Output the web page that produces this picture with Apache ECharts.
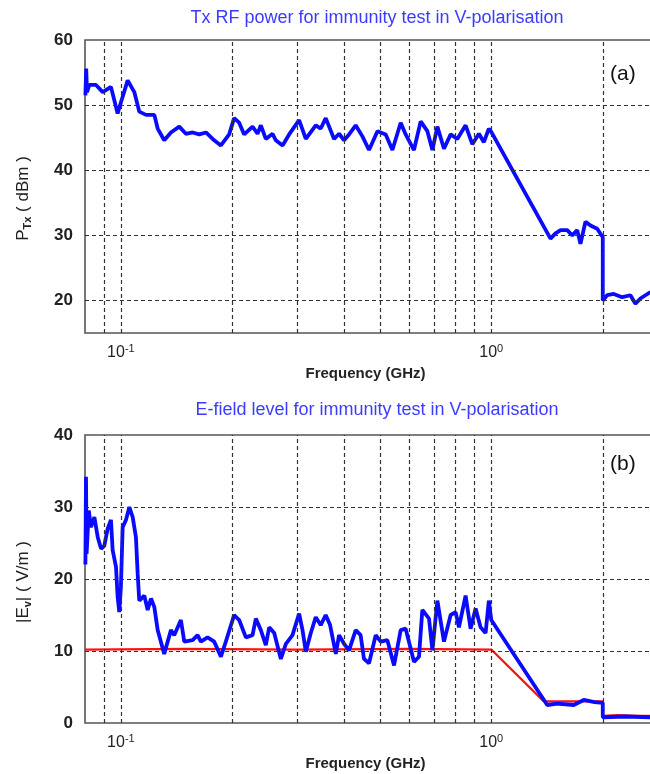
<!DOCTYPE html>
<html>
<head>
<meta charset="UTF-8">
<title>Immunity test V-polarisation</title>
<script src="https://cdn.jsdelivr.net/npm/echarts@6.0.0/dist/echarts.min.js"></script>
<style>
  html, body { margin: 0; padding: 0; background: #fff; overflow: hidden; }
  #chart { width: 650px; height: 774px; }
</style>
</head>
<body>
<div id="chart"></div>
<script>
// panel (a): Tx RF power (dBm) vs frequency (GHz)
const freqA = [0.0802, 0.0806, 0.0810, 0.0822, 0.0857, 0.0893, 0.0940, 0.0980, 0.1000, 0.1043,
  0.1087, 0.1121, 0.1169, 0.1231, 0.1257, 0.1309, 0.1365, 0.1437, 0.1498, 0.1562,
  0.1627, 0.1697, 0.1786, 0.1862, 0.1960, 0.2022, 0.2086, 0.2152, 0.2267, 0.2339,
  0.2387, 0.2462, 0.2567, 0.2620, 0.2732, 0.2846, 0.3028, 0.3157, 0.3358, 0.3464,
  0.3573, 0.3763, 0.3882, 0.4004, 0.4130, 0.4305, 0.4488, 0.4677, 0.4928, 0.5188,
  0.5408, 0.5694, 0.5873, 0.6184, 0.6447, 0.6721, 0.6934, 0.7153, 0.7451, 0.7767,
  0.8096, 0.8524, 0.8887, 0.9260, 0.9550, 0.9850, 1.000, 1.445, 1.491, 1.538,
  1.603, 1.654, 1.706, 1.741, 1.796, 1.853, 1.932, 2.000, 2.000, 2.055,
  2.141, 2.256, 2.375, 2.450, 2.527, 2.690];
const powerA = [51.5, 55.6, 52.0, 53.1, 53.1, 52.0, 52.8, 48.7, 50.4, 53.8,
  52.0, 49.0, 48.5, 48.5, 46.4, 44.6, 45.8, 46.7, 45.6, 45.8,
  45.5, 45.8, 44.6, 43.8, 45.5, 48.0, 47.3, 45.5, 46.7, 45.6,
  46.9, 44.8, 45.6, 44.6, 43.8, 45.5, 47.7, 44.8, 46.9, 46.4,
  48.0, 44.8, 45.6, 44.6, 45.5, 46.9, 45.2, 43.1, 46.0, 45.5,
  43.1, 47.3, 45.5, 43.1, 47.5, 46.0, 43.1, 46.7, 43.3, 45.5,
  44.8, 46.9, 44.0, 45.6, 44.3, 46.4, 45.9, 29.5, 30.3, 30.8,
  30.8, 30.0, 30.8, 28.7, 32.1, 31.5, 31.0, 29.7, 20.0, 20.8,
  21.0, 20.5, 20.8, 19.5, 20.3, 21.3];

// panel (b): measured E-field |Ev| (V/m)
const freqB = [0.0802, 0.0805, 0.0808, 0.0819, 0.0830, 0.0848, 0.0866, 0.0884, 0.0902, 0.0921,
  0.0940, 0.0950, 0.0970, 0.0980, 0.0990, 0.1000, 0.1011, 0.1032, 0.1054, 0.1076,
  0.1098, 0.1110, 0.1121, 0.1157, 0.1181, 0.1206, 0.1231, 0.1257, 0.1309, 0.1365,
  0.1393, 0.1452, 0.1483, 0.1562, 0.1611, 0.1644, 0.1714, 0.1786, 0.1862, 0.1920,
  0.2022, 0.2086, 0.2175, 0.2267, 0.2314, 0.2387, 0.2462, 0.2514, 0.2594, 0.2703,
  0.2789, 0.2906, 0.3028, 0.3093, 0.3157, 0.3256, 0.3358, 0.3464, 0.3573, 0.3671,
  0.3804, 0.3882, 0.4004, 0.4130, 0.4305, 0.4439, 0.4533, 0.4677, 0.4875, 0.5029,
  0.5242, 0.5463, 0.5694, 0.5873, 0.6184, 0.6380, 0.6514, 0.6790, 0.6934, 0.7153,
  0.7451, 0.7767, 0.8011, 0.8179, 0.8524, 0.8793, 0.9072, 0.9356, 0.9652, 0.9850,
  1.000, 1.416, 1.507, 1.670, 1.777, 1.900, 2.000, 2.000, 2.300, 2.690];
const fieldB = [22.0, 34.2, 23.5, 29.5, 27.2, 28.6, 25.8, 24.2, 24.6, 27.0,
  28.2, 24.0, 21.7, 17.5, 15.4, 18.9, 27.2, 28.2, 30.0, 28.6,
  25.8, 20.7, 17.0, 17.7, 15.7, 17.3, 16.1, 12.9, 9.6, 12.9,
  12.2, 14.3, 11.3, 11.5, 12.2, 11.3, 11.9, 11.3, 9.2, 11.3,
  15.0, 14.3, 11.9, 12.2, 14.5, 12.9, 10.8, 13.3, 12.5, 8.9,
  11.0, 12.2, 15.2, 12.9, 9.9, 12.5, 14.7, 13.6, 15.0, 13.6,
  9.6, 12.2, 11.0, 10.1, 12.9, 12.2, 8.9, 8.3, 12.2, 11.3,
  11.5, 8.0, 12.9, 13.1, 8.5, 9.2, 15.7, 14.5, 10.1, 17.0,
  11.3, 15.0, 15.4, 13.3, 17.7, 13.1, 15.9, 13.3, 12.5, 17.0,
  14.3, 2.5, 2.7, 2.5, 3.2, 2.9, 2.8, 0.8, 0.9, 0.8];

// panel (b): target level (red)
const freqRed = [0.080, 0.150, 0.300, 0.600, 1.000, 1.386, 2.000, 2.000, 2.200, 2.500, 2.690];
const levelRed = [10.2, 10.3, 10.2, 10.3, 10.2, 3.0, 3.0, 1.0, 1.1, 1.0, 1.0];

const vGrid = [0.09, 0.1, 0.2, 0.3, 0.4, 0.5, 0.6, 0.7, 0.8, 0.9, 1, 2];
const hGridA = [20, 30, 40, 50];
const hGridB = [10, 20, 30];

const FONT = "'Liberation Sans', Arial, sans-serif";
const gridLine = { type: [4, 3], color: '#333', width: 1.2 };

function pairs(xs, ys) {
  return xs.map((x, i) => [x, ys[i]]);
}

function freqAxis(idx) {
  return {
    type: 'log', logBase: 10, gridIndex: idx, min: 0.08, max: 3,
    name: 'Frequency (GHz)', nameLocation: 'middle', nameGap: 33,
    nameTextStyle: { fontFamily: FONT, fontSize: 15, fontWeight: 'bold', color: '#222', padding: [0, 22, 0, 0] },
    axisLine: { show: false }, axisTick: { show: false }, splitLine: { show: false },
    axisLabel: {
      margin: 10, color: '#222', fontFamily: FONT,
      formatter: function (v) {
        const e = Math.log10(v);
        if (Math.abs(e + 1) < 1e-6) return '{b|10}{s|-1}';
        if (Math.abs(e) < 1e-6) return '{b|10}{s|0}';
        return '';
      },
      rich: {
        b: { fontFamily: FONT, fontSize: 16, color: '#222', lineHeight: 18, verticalAlign: 'bottom' },
        s: { fontFamily: FONT, fontSize: 11, color: '#222', lineHeight: 12, padding: [0, 0, 8, 0], verticalAlign: 'top' }
      }
    }
  };
}

function valueAxis(idx, min, max, nameRich, shift) {
  return {
    type: 'value', gridIndex: idx, min: min, max: max, interval: 5,
    name: nameRich, nameLocation: 'middle', nameGap: 52, nameRotate: 90,
    nameTextStyle: {
      fontFamily: FONT, fontSize: 17, color: '#222', padding: [0, shift, 0, 0],
      rich: {
        n: { fontFamily: FONT, fontSize: 17, color: '#222', lineHeight: 18, verticalAlign: 'top' },
        sub: { fontFamily: FONT, fontSize: 11, fontWeight: 'bold', color: '#222', lineHeight: 13, padding: [7, 0, 0, 0], verticalAlign: 'top' }
      }
    },
    axisLine: { show: false }, axisTick: { show: false }, splitLine: { show: false },
    axisLabel: {
      margin: 12, fontFamily: FONT, fontSize: 17, fontWeight: 'bold', color: '#222',
      formatter: v => (v % 10 === 0 ? String(v) : '')
    }
  };
}

function gridSeries(idx, hLines) {
  return {
    type: 'line', xAxisIndex: idx, yAxisIndex: idx, data: [], silent: true, z: 1,
    markLine: {
      silent: true, symbol: ['none', 'none'], label: { show: false },
      lineStyle: gridLine, emphasis: { disabled: true },
      data: vGrid.map(f => ({ xAxis: f })).concat(hLines.map(v => ({ yAxis: v })))
    }
  };
}

const chart = echarts.init(document.getElementById('chart'));
chart.setOption({
  animation: false,
  backgroundColor: '#fff',
  title: [
    { text: 'Tx RF power for immunity test in V-polarisation', left: 372, top: 4, textAlign: 'center',
      textStyle: { fontFamily: FONT, fontSize: 18, fontWeight: 'normal', color: '#3b3bff' } },
    { text: 'E-field level for immunity test in V-polarisation', left: 372, top: 396, textAlign: 'center',
      textStyle: { fontFamily: FONT, fontSize: 18, fontWeight: 'normal', color: '#3b3bff' } }
  ],
  grid: [
    { left: 85, top: 40, height: 293, width: 583, outerBoundsMode: 'none', containLabel: false,
      show: true, borderColor: '#555', borderWidth: 1.6, backgroundColor: '#fff' },
    { left: 85, top: 435, height: 288, width: 583, outerBoundsMode: 'none', containLabel: false,
      show: true, borderColor: '#555', borderWidth: 1.6, backgroundColor: '#fff' }
  ],
  xAxis: [freqAxis(0), freqAxis(1)],
  yAxis: [
    valueAxis(0, 15, 60, '{n|P}{sub|Tx}{n| ( dBm )}', 24),
    valueAxis(1, 0, 40, '{n||E}{sub|v}{n|| ( V/m )}', 6)
  ],
  graphic: [
    { type: 'text', left: 610, top: 64, style: { text: '(a)', fontFamily: FONT, fontSize: 21, fill: '#111' } },
    { type: 'text', left: 610, top: 454, style: { text: '(b)', fontFamily: FONT, fontSize: 21, fill: '#111' } }
  ],
  series: [
    gridSeries(0, hGridA),
    gridSeries(1, hGridB),
    {
      type: 'line', xAxisIndex: 0, yAxisIndex: 0, data: pairs(freqA, powerA), z: 3,
      showSymbol: false, symbol: 'none', lineStyle: { color: '#0a0aff', width: 3.8 }
    },
    {
      type: 'line', xAxisIndex: 1, yAxisIndex: 1, data: pairs(freqRed, levelRed), z: 2,
      showSymbol: false, symbol: 'none', lineStyle: { color: '#ff1010', width: 2.2 }
    },
    {
      type: 'line', xAxisIndex: 1, yAxisIndex: 1, data: pairs(freqB, fieldB), z: 3,
      showSymbol: false, symbol: 'none', lineStyle: { color: '#0a0aff', width: 3.8 }
    }
  ]
});
</script>
</body>
</html>
